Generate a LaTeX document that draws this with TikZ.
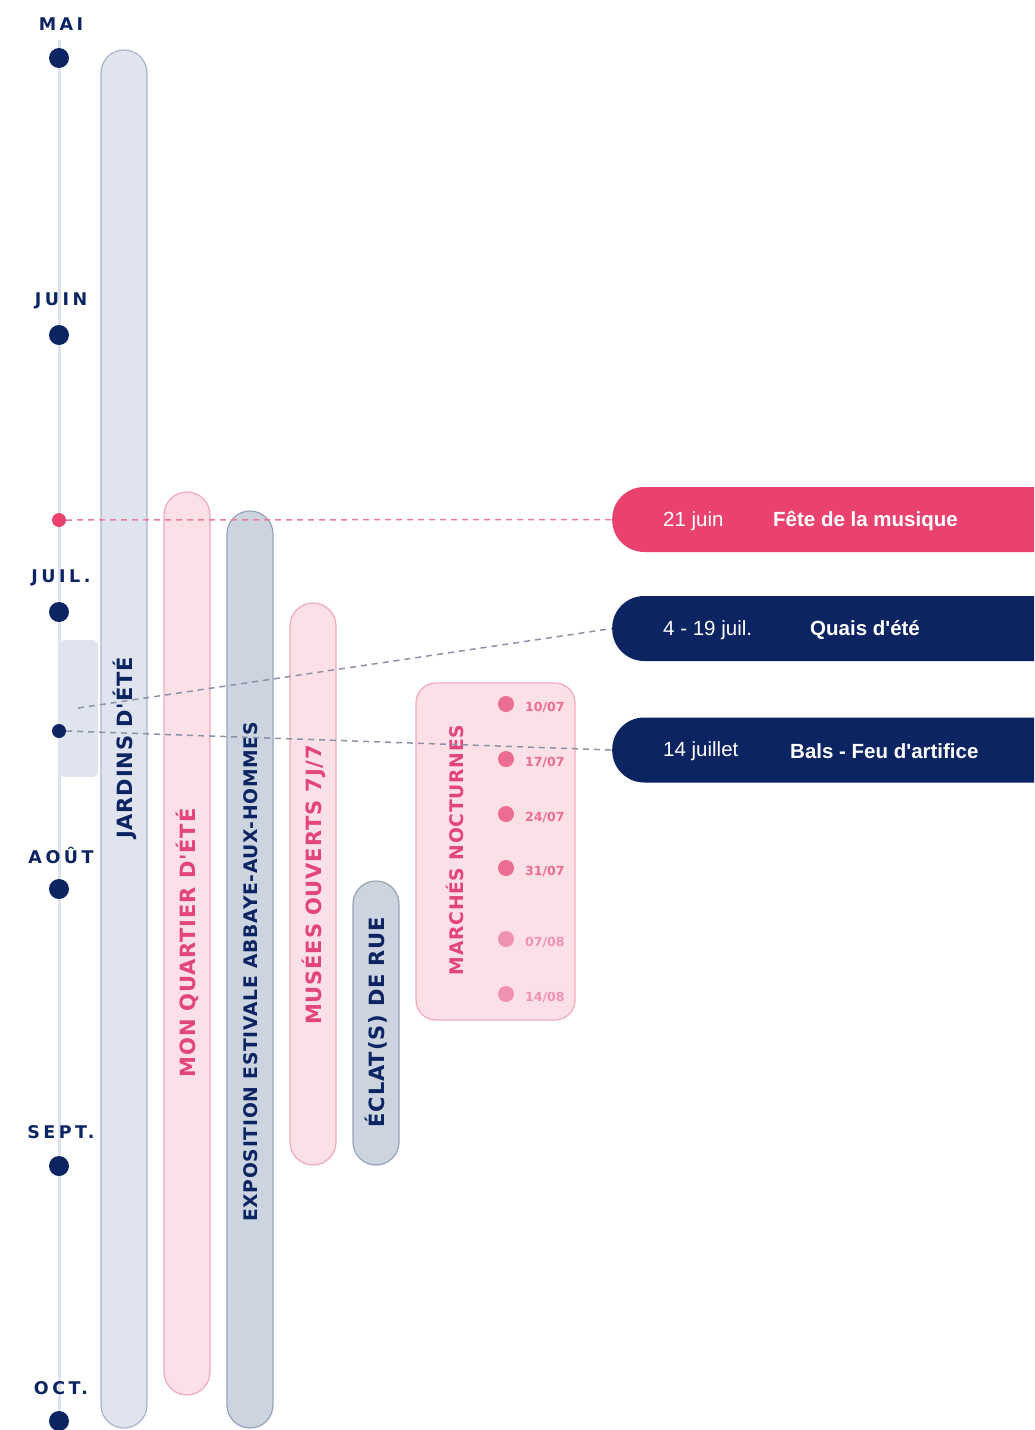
\documentclass[tikz,border=0pt]{standalone}
\usepackage{fontspec}
\setmainfont{Liberation Sans}
\newfontfamily\boxfont{Liberation Sans}
\newfontfamily\barfont{DejaVu Sans}[LetterSpace=4]
\newfontfamily\monfont{DejaVu Sans}[LetterSpace=20]
\newfontfamily\datefont{DejaVu Sans}
\definecolor{navy}{HTML}{0C2461}
\definecolor{rose}{HTML}{E9426F}
\definecolor{rosefill}{HTML}{FCE0E8}
\definecolor{rosedraw}{HTML}{F2A9BD}
\definecolor{rosetext}{HTML}{E2457A}
\definecolor{rosedot}{HTML}{EC6D93}
\definecolor{rosedotb}{HTML}{F093B0}
\definecolor{lgfill}{HTML}{DFE4EE}
\definecolor{lgdraw}{HTML}{AAB4C8}
\definecolor{gfill}{HTML}{CCD4E0}
\definecolor{gdraw}{HTML}{97A3BA}
\definecolor{tline}{HTML}{DDE2EC}
\definecolor{dashgray}{HTML}{8A93A8}
\definecolor{dashrose}{HTML}{EE7D9B}
\tikzset{
  monthdot/.style={circle,fill=navy,inner sep=0pt,minimum size=20pt},
  monthlbl/.style={font=\monfont\bfseries\fontsize{17.5}{17.5}\selectfont,text=navy,inner sep=0pt},
  pinkpill/.style={fill=rosefill,draw=rosedraw,line width=1.2pt,rounded corners=23pt},
  lgpill/.style={fill=lgfill,draw=lgdraw,line width=1.2pt,rounded corners=23pt},
  gpill/.style={fill=gfill,draw=gdraw,line width=1.2pt,rounded corners=23pt},
  barlbl/.style={font=\barfont\bfseries\fontsize{21}{21}\selectfont,rotate=90,inner sep=0pt},
  smallbarlbl/.style={barlbl,font=\barfont\bfseries\fontsize{18.7}{18.7}\selectfont},
  datelbl/.style={font=\datefont\bfseries\fontsize{12.5}{12.5}\selectfont,text=rosedot,anchor=west,inner sep=0pt},
  mdot/.style={circle,fill=rosedot,inner sep=0pt,minimum size=16pt},
  evbox/.style={rounded corners=32pt,minimum width=470pt,minimum height=65pt,anchor=west,inner sep=0pt},
  evdate/.style={font=\boxfont\fontsize{20.5}{20.5}\selectfont,text=white,anchor=west,inner sep=0pt},
  evname/.style={font=\boxfont\bfseries\fontsize{20.5}{20.5}\selectfont,text=white,anchor=west,inner sep=0pt},
  dashg/.style={draw=dashgray,line width=1.5pt,dash pattern=on 6pt off 5pt},
  dashr/.style={draw=dashrose,line width=1.5pt,dash pattern=on 6pt off 5pt}
}
\begin{document}
\begin{tikzpicture}[x=1pt,y=-1pt]
\useasboundingbox (0,0) rectangle (1034,1430);
\clip (0,0) rectangle (1034,1430);
% timeline
\draw[tline,line width=3pt] (59,40) -- (59,1440);
% quais range rectangle
\node[fill=lgfill,rounded corners=5pt,minimum width=39pt,minimum height=137pt,inner sep=0pt] (qrange) at (78.5,708.5) {};
% bars
\draw[lgpill] (101,50) rectangle (147,1428);
\draw[pinkpill] (164,492) rectangle (210,1395);
\draw[gpill] (227,511) rectangle (273,1428);
\draw[pinkpill] (290,603) rectangle (336,1165);
\draw[gpill] (353,881) rectangle (399,1165);
\draw[fill=rosefill,draw=rosedraw,line width=1.2pt,rounded corners=20pt] (416,683) rectangle (575,1020);
% bar labels
\node[barlbl,text=navy] (jardins) at (124.5,748) {JARDINS D'ÉTÉ};
\node[barlbl,text=rosetext] (quartier) at (187.5,943) {MON QUARTIER D'ÉTÉ};
\node[smallbarlbl,text=navy] (expo) at (250.5,972) {EXPOSITION ESTIVALE ABBAYE-AUX-HOMMES};
\node[barlbl,text=rosetext] (musees) at (313.5,885) {MUSÉES OUVERTS 7J/7};
\node[barlbl,text=navy] (eclat) at (376.5,1022) {ÉCLAT(S) DE RUE};
\node[smallbarlbl,text=rosetext] (marches) at (455,850) {MARCHÉS NOCTURNES};
% marchés dates
\node[mdot] (m1) at (506,704) {};
\node[mdot] (m2) at (506,759) {};
\node[mdot] (m3) at (506,814) {};
\node[mdot] (m4) at (506,868) {};
\node[mdot,fill=rosedotb] (m5) at (506,939) {};
\node[mdot,fill=rosedotb] (m6) at (506,994) {};
\node[datelbl] (d1) at (525,707) {10/07};
\node[datelbl] (d2) at (525,762) {17/07};
\node[datelbl] (d3) at (525,817) {24/07};
\node[datelbl] (d4) at (525,871) {31/07};
\node[datelbl,text=rosedotb] (d5) at (525,942) {07/08};
\node[datelbl,text=rosedotb] (d6) at (525,997) {14/08};
% months
\node[monthdot] (mai) at (59,58) {};
\node[monthdot] (juin) at (59,335) {};
\node[monthdot] (juil) at (59,612) {};
\node[monthdot] (aout) at (59,889) {};
\node[monthdot] (sept) at (59,1166) {};
\node[monthdot] (oct) at (59,1421) {};
\node[monthlbl] (lmai) at (61,24) {MAI};
\node[monthlbl] (ljuin) at (61,301) {JUIN};
\node[monthlbl] (ljuil) at (61,578) {JUIL.};
\node[monthlbl] (laout) at (61,855) {AOÛT};
\node[monthlbl] (lsept) at (61,1132) {SEPT.};
\node[monthlbl] (loct) at (61,1388) {OCT.};
% event dots
\node[circle,fill=rose,inner sep=0pt,minimum size=14pt] (p21) at (59,520) {};
\node[circle,fill=navy,inner sep=0pt,minimum size=14pt] (p14) at (59,731) {};
\coordinate (q0) at (78,708);
% event boxes
\node[evbox,fill=rose] (fete) at (612,519.5) {};
\node[evbox,fill=navy] (quais) at (612,628.5) {};
\node[evbox,fill=navy] (bals) at (612,750) {};
\node[evdate] (fd) at (663,521) {21 juin};
\node[evname] (fn) at (773,521) {Fête de la musique};
\node[evdate] (qd) at (663,630) {4 - 19 juil.};
\node[evname] (qn) at (810,630) {Quais d'été};
\node[evdate] (bd) at (663,751) {14 juillet};
\node[evname] (bn) at (790,751) {Bals - Feu d'artifice};
% connectors
\draw[dashr] (p21.east) -- (fete.west);
\draw[dashg] (q0) -- (quais.west);
\draw[dashg] (p14.east) -- (bals.west);
\end{tikzpicture}
\end{document}
